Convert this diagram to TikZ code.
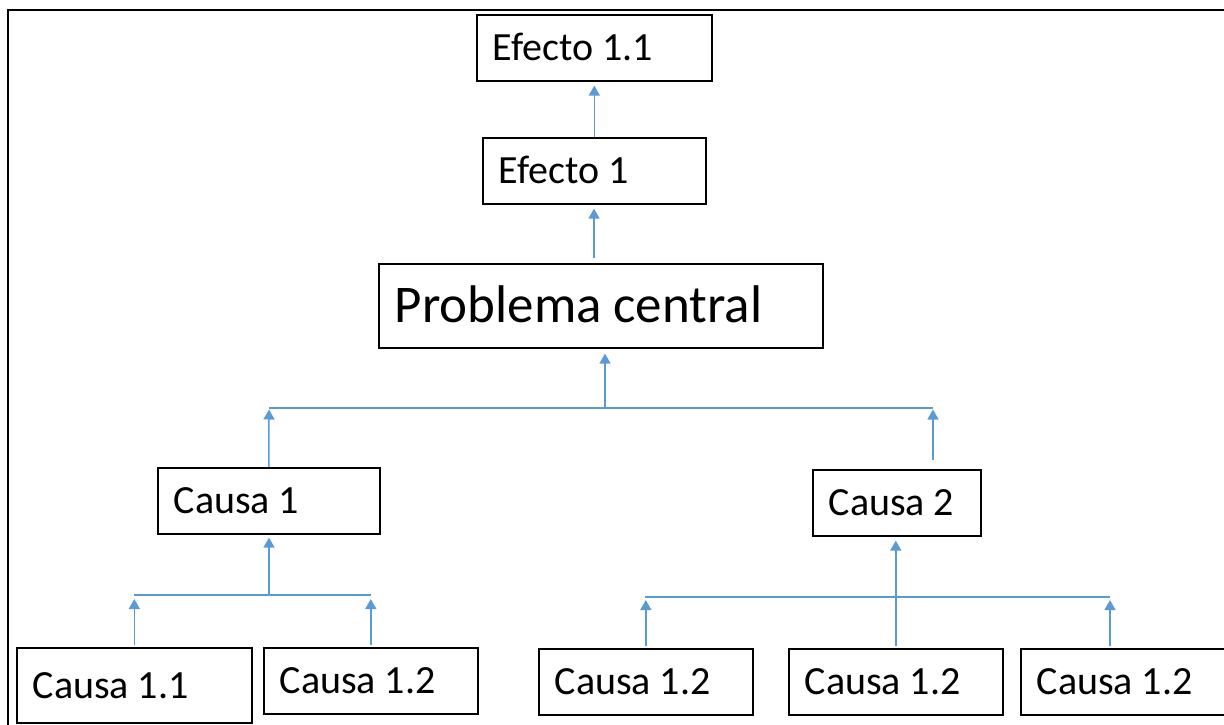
\documentclass[tikz,border=0pt]{standalone}
\usepackage{fontspec}
\setmainfont{Carlito}
\usetikzlibrary{arrows.meta}
\definecolor{linkblue}{RGB}{91,155,213}
\begin{document}
\begin{tikzpicture}[x=1pt,y=-1pt,
  box/.style={draw=black, line width=1.6pt, anchor=north west,
    inner xsep=16pt, inner ysep=0pt, align=left,
    text height=25.5pt, text depth=0pt,
    font=\fontsize{40}{40}\selectfont,
    execute at begin node={\spaceskip=0.22em\relax}},
  bigbox/.style={box, text height=34pt, font=\fontsize{53}{53}\selectfont},
  link/.style={draw=linkblue, line width=1.5pt},
  arr/.style={link, -{Triangle[length=10pt,width=11pt]}},
  frame/.style={draw=black, line width=2.5pt}]
\useasboundingbox (0,0) rectangle (1224,725);

% outer frame (top and left edges)
\draw[frame] (8,735) -- (8,10) -- (1235,10);

% effects
\node[box, text width=203pt, minimum height=66pt] (e11) at (476,14) {Efecto 1.1};
\node[box, text width=191pt, minimum height=66pt] (e1) at (482,137) {Efecto 1};

% central problem
\node[bigbox, text width=412pt, minimum height=84pt] (pc) at (378,263) {Problema central};

% causes
\node[box, text width=190pt, minimum height=66pt] (c1) at (157,467) {Causa 1};
\node[box, text width=136pt, minimum height=66pt] (c2) at (812,469) {Causa 2};

% sub-causes
\node[box, text width=203pt, minimum height=75pt] (c11) at (16,647) {Causa 1.1};
\node[box, text width=182pt, minimum height=66pt] (c12) at (263,647) {Causa 1.2};
\node[box, text width=182pt, minimum height=66pt] (c21) at (538,648) {Causa 1.2};
\node[box, text width=182pt, minimum height=66pt] (c22) at (788,648) {Causa 1.2};
\node[box, text width=200pt, minimum height=66pt] (c23) at (1020,648) {Causa 1.2};

% junction points
\coordinate (pcout) at (594,258);
\coordinate (j1l) at (269,408);
\coordinate (j1m) at (605,408);
\coordinate (j1r) at (933,408);
\coordinate (c2out) at (933,460);
\coordinate (j2l) at (134,595);
\coordinate (j2m) at (269,595);
\coordinate (j2r) at (371,595);
\coordinate (j3l) at (645,597);
\coordinate (j3r) at (1110,597);
\coordinate (c23out) at (1110,646);

% effect chain
\draw[arr, shorten >=4pt] (e1.north) -- (e11.south);
\draw[arr, shorten >=4pt] (pcout) -- (pcout |- e1.south);

% causes into the central problem
\draw[link] (j1l) -- (j1r);
\draw[arr, shorten >=5pt] (j1m) -- (j1m |- pc.south);
\draw[arr, shorten >=1.5pt] (c1.north) -- (j1l);
\draw[arr, shorten >=1.5pt] (c2out) -- (j1r);

% sub-causes of cause 1
\draw[link] (j2l) -- (j2r);
\draw[arr, shorten >=3pt] (j2m) -- (j2m |- c1.south);
\draw[arr, shorten >=4pt] ([yshift=2pt]c11.north) -- (c11.north |- j2l);
\draw[arr, shorten >=4pt] ([yshift=2pt]c12.north) -- (c12.north |- j2r);

% sub-causes of cause 2
\draw[link] (j3l) -- (j3r);
\draw[arr, shorten >=4pt] ([yshift=2pt]c22.north) -- (c22.north |- c2.south);
\draw[arr, shorten >=3pt] ([yshift=2pt]c21.north) -- (c21.north |- j3l);
\draw[arr, shorten >=3pt] (c23out) -- (j3r);
\end{tikzpicture}
\end{document}
